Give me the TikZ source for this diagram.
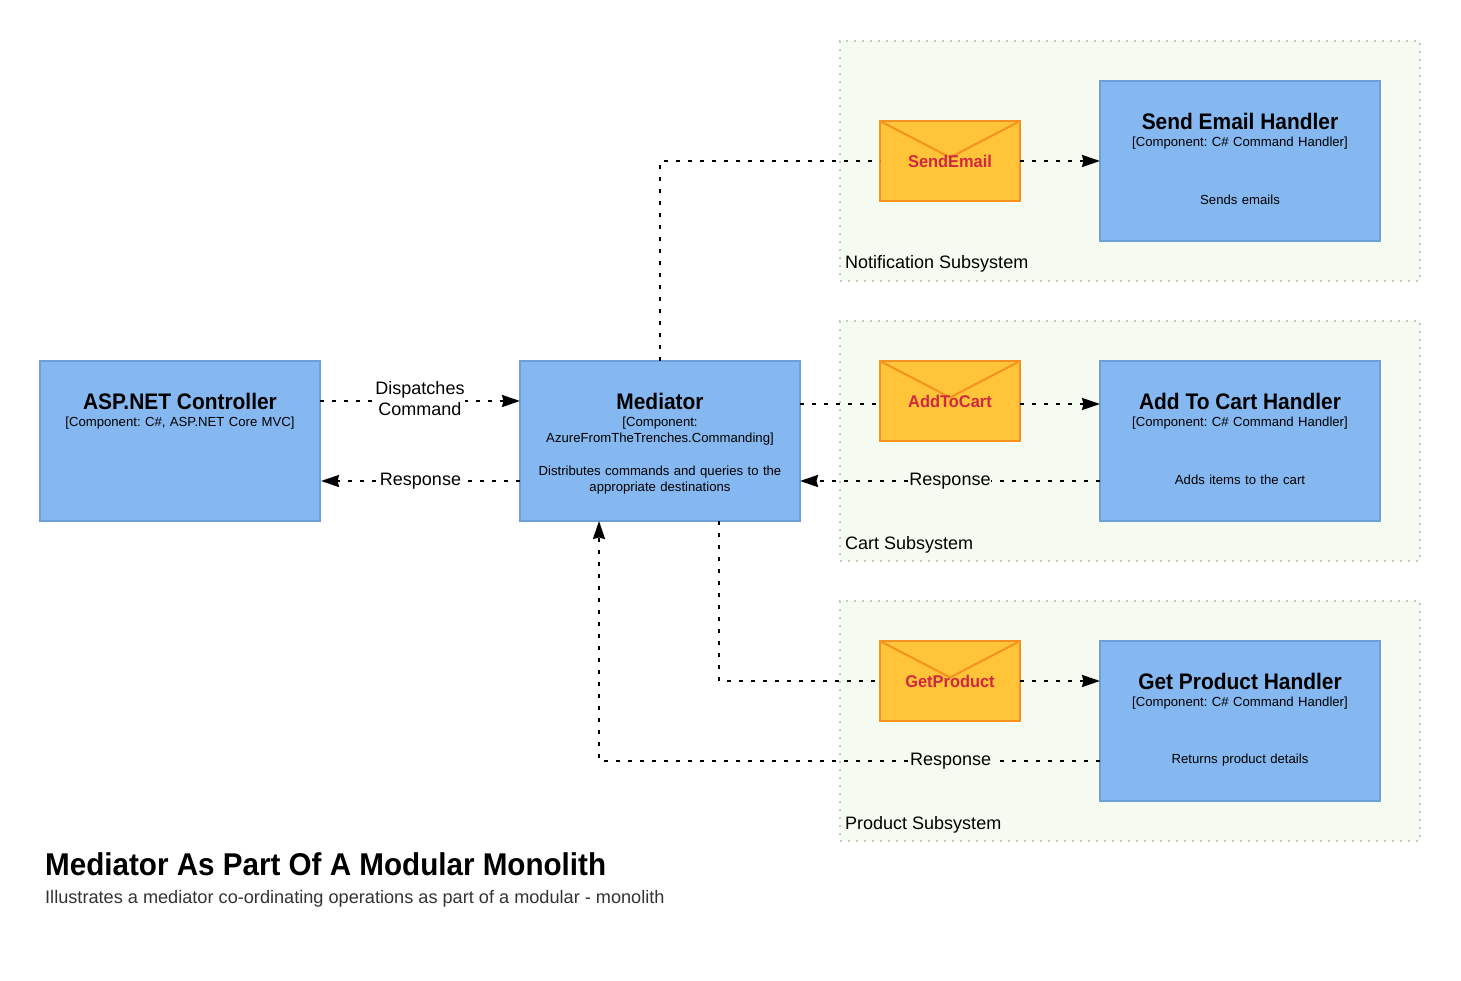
\documentclass[tikz,border=0pt]{standalone}
\usepackage{fontspec}
\setmainfont{Liberation Sans}
\newfontfamily\headfont[FakeStretch=0.93]{Liberation Sans}
\newfontfamily\msgfont[FakeStretch=0.965]{Liberation Sans}
\newfontfamily\titlefont[FakeStretch=0.94]{Liberation Sans}
\usetikzlibrary{arrows.meta}
\definecolor{boxblue}{RGB}{133,184,240}
\definecolor{boxline}{RGB}{108,160,216}
\definecolor{groupfill}{RGB}{246,251,242}
\definecolor{groupline}{RGB}{195,205,190}
\definecolor{msgfill}{RGB}{255,196,56}
\definecolor{msgline}{RGB}{245,145,30}
\definecolor{msgtext}{RGB}{207,40,66}
\newcommand{\msgflap}[1]{%
\draw[msgflapline](#1.north west) -- ([yshift=-36.5pt]#1.north) -- (#1.north east);}
\tikzstyle{group} = [rectangle, minimum width=580pt, minimum height=240pt,
inner sep=0pt, outer sep=0pt, draw=groupline, fill=groupfill, line width=2pt,
dash pattern=on 2pt off 6pt]
\tikzstyle{grouplabel} = [anchor=base west, inner sep=0pt, font=\fontsize{18}{20}\selectfont]
\tikzstyle{component} = [rectangle, minimum width=280pt, minimum height=160pt,
inner sep=0pt, outer sep=0pt, draw=boxline, fill=boxblue, line width=2pt]
\tikzstyle{message} = [rectangle, minimum width=140pt, minimum height=80pt,
inner sep=0pt, outer sep=0pt, draw=msgline, fill=msgfill, line width=2pt]
\tikzstyle{msgflapline} = [draw=msgline, line width=2pt]
\tikzstyle{msgname} = [text=msgtext, inner sep=0pt, font=\msgfont\fontsize{17}{20}\bfseries\selectfont]
\tikzstyle{heading} = [inner sep=0pt, font=\headfont\fontsize{22.5}{26}\bfseries\selectfont]
\tikzstyle{kind} = [inner sep=0pt, align=center, text width=270pt, font=\frenchspacing\fontsize{13.15}{16}\selectfont]
\tikzstyle{arrow} = [line width=2pt, dash pattern=on 4pt off 8pt, -{Stealth[length=18pt,width=12pt,inset=1.5pt]}]
\tikzstyle{plainlink} = [line width=2pt, dash pattern=on 4pt off 8pt]
\tikzstyle{linklabel} = [inner sep=0.5pt, align=center, fill=white, font=\fontsize{18}{21}\selectfont]
\tikzstyle{grouplinklabel} = [linklabel, fill=groupfill]

\begin{document}
\begin{tikzpicture}[x=1pt, y=-1pt]
\useasboundingbox (0,0) rectangle (1461,981);

% subsystems
\node(notifyGroup)[group] at (1130,161){};
\node(cartGroup)[group] at (1130,441){};
\node(productGroup)[group] at (1130,721){};
\node(notifyLabel)[grouplabel] at (845,269){Notification Subsystem};
\node(cartLabel)[grouplabel] at (845,549){Cart Subsystem};
\node(productLabel)[grouplabel] at (845,829){Product Subsystem};

% components
\node(controller)[component] at (180,441){};
\node(mediator)[component] at (660,441){};
\node(sendHandler)[component] at (1240,161){};
\node(cartHandler)[component] at (1240,441){};
\node(productHandler)[component] at (1240,721){};

% messages
\node(sendMsg)[message] at (950,161){};
\node(cartMsg)[message] at (950,401){};
\node(productMsg)[message] at (950,681){};
\msgflap{sendMsg}
\msgflap{cartMsg}
\msgflap{productMsg}
\node(sendName)[msgname] at (950,161){SendEmail};
\node(cartName)[msgname] at (950,401){AddToCart};
\node(productName)[msgname] at (950,681){GetProduct};

% box texts
\node(controllerHead)[heading] at (180,401){ASP.NET Controller};
\node(controllerKind)[kind] at (180,423.5){[Component: C\#, ASP.NET Core MVC]};
\node(mediatorHead)[heading] at (660,401){Mediator};
\node(mediatorKind)[kind] at (660,431.5){[Component:\\AzureFromTheTrenches.Commanding]};
\node(mediatorDesc)[kind] at (660,480.5){Distributes commands and queries to the\\appropriate destinations};
\node(sendHead)[heading] at (1240,121){Send Email Handler};
\node(sendKind)[kind] at (1240,143.5){[Component: C\# Command Handler]};
\node(sendDesc)[kind] at (1240,200){Sends emails};
\node(cartHead)[heading] at (1240,401){Add To Cart Handler};
\node(cartKind)[kind] at (1240,423.5){[Component: C\# Command Handler]};
\node(cartDesc)[kind] at (1240,480){Adds items to the cart};
\node(productHead)[heading] at (1240,681){Get Product Handler};
\node(productKind)[kind] at (1240,703.5){[Component: C\# Command Handler]};
\node(productDesc)[kind] at (1240,760){Returns product details};

% connectors
\draw[arrow]([yshift=40pt]controller.east) -- node[linklabel, yshift=2.5pt]{Dispatches\\Command}([yshift=40pt]mediator.west);
\draw[arrow]([yshift=-40pt]mediator.west) -- node[linklabel]{Response}([yshift=-40pt,xshift=1pt]controller.east);
\draw[plainlink](mediator.north) |- (sendMsg.west);
\draw[arrow](sendMsg.east) -- (sendHandler.west);
\draw[plainlink]([yshift=37pt]mediator.east) -- ([yshift=-3pt]cartMsg.west);
\draw[arrow]([yshift=-3pt]cartMsg.east) -- ([yshift=37pt]cartHandler.west);
\draw[arrow]([yshift=-40pt]cartHandler.west) -- node[grouplinklabel]{Response}([yshift=-40pt]mediator.east);
\draw[plainlink]([xshift=59pt]mediator.south) |- (productMsg.west);
\draw[arrow](productMsg.east) -- ([yshift=40pt]productHandler.west);
\draw[arrow]([yshift=-40pt]productHandler.west) -- node[grouplinklabel, pos=0.298]{Response}(599,761) -- ([xshift=-61pt]mediator.south);

% caption
\node(title)[anchor=base west, inner sep=0pt, font=\titlefont\fontsize{31.5}{34}\bfseries\selectfont] at (45,875){Mediator As Part Of A Modular Monolith};
\node(subtitle)[anchor=base west, inner sep=0pt, text=black!80, font=\frenchspacing\fontsize{18.15}{21}\selectfont] at (45,903){Illustrates a mediator co-ordinating operations as part of a modular - monolith};

\end{tikzpicture}
\end{document}
